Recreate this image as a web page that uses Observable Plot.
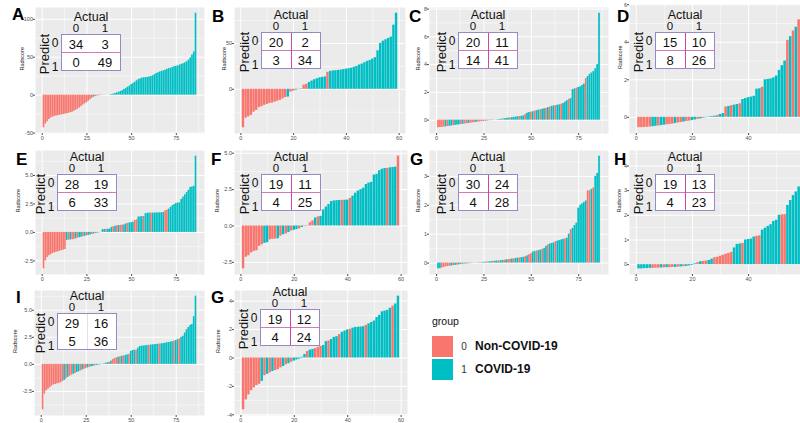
<!DOCTYPE html>
<html><head><meta charset="utf-8">
<script src="https://cdn.jsdelivr.net/npm/d3@7"></script>
<script src="https://cdn.jsdelivr.net/npm/@observablehq/plot@0.6"></script>
<style>
html,body{margin:0;padding:0;width:800px;height:423px;overflow:hidden;background:#fff;font-family:Arial,"Liberation Sans",sans-serif;}
#root{position:relative;width:800px;height:423px;overflow:hidden;}
.abs{position:absolute;white-space:nowrap;line-height:1;}
.letter{font-weight:bold;font-size:17px;color:#000;}
.cmbox{position:absolute;box-sizing:border-box;border:1px solid #958ac4;background:#fff;}
.t12{font-size:12px;color:#111;}
.num{font-size:13px;color:#111;}
</style></head><body><div id="root"></div>
<script>
// ---------------- data ----------------
const xTicks86 = [0, 25, 50, 75];
const xTicks59 = [0, 20, 40, 60];
const xTicks59cut = [0, 20, 40];

const valuesA = [-43,-38,-35,-32,-30,-29,-28,-27.5,-27,-26.5,
 -26,-25.5,-25,-24.5,-24,-23,-22.5,-21,-20,-18.5,
 -17,-15,-13,-11.5,-10,-8,-6,-4,-2.5,-1.8,
 -1.2,-0.8,-0.5,-0.3,-0.2,-0.1,-0.05,0.3,0.8,1.5,
 2.2,3,3.8,4.8,6,7.5,9,10.5,12,14,
 15.5,17,19,20.5,21.5,22.5,23,23.2,23.5,24,
 24.5,25.5,27,28.5,29.5,30.5,31.5,32,33,34,
 35,35.5,36.5,37.5,38,38.5,39.5,40.5,41.5,42.5,
 44,46,49,53,57,108];
const groupsA = [0,0,0,0,0,0,0,0,0,0, 0,0,0,0,0,0,0,0,0,0, 0,0,0,0,0,0,0,0,1,0,
 0,0,1,0,0,1,0,1,1,1, 1,1,1,1,1,1,1,1,1,1, 1,1,1,1,1,1,1,1,1,1, 1,1,1,1,1,1,1,1,1,1,
 1,1,1,1,1,1,1,1,1,1, 1,1,1,1,1,1];
const cmA = [[34,3],[0,49]];
const yTicksA = [-50, 0, 50, 100];

const valuesB = [-42,-31.5,-30,-28.5,-25,-23,-20,-19,-17.5,-16.5,
 -15.5,-15,-14,-13,-12,-10.5,-9,-8.5,-3,-2,
 -1,-0.5,0.5,4.5,5.5,7.5,9,10.5,11.5,12.5,
 13,13.5,18.5,19.5,20,20.3,20.6,21,21.5,22,
 22.5,23,24,25,26.5,27.5,29,30.5,31.5,33,
 34.5,42,50,52.5,54,55.5,57,70,83];
const groupsB = [0,0,0,0,0,0,0,0,0,0, 0,0,0,0,0,0,0,1,0,0, 1,0,1,0,0,1,1,1,1,1,
 1,1,0,1,1,1,1,1,1,1, 1,1,1,1,1,1,1,1,1,1, 1,1,1,1,1,1,1,1,1];
const cmB = [[20,2],[3,34]];
const yTicksB = [0, 50];

const valuesC = [-0.55,-0.53,-0.52,-0.5,-0.48,-0.46,-0.44,-0.42,-0.4,-0.38,
 -0.36,-0.34,-0.32,-0.3,-0.28,-0.26,-0.24,-0.22,-0.2,-0.18,
 -0.16,-0.14,-0.12,-0.1,-0.09,-0.07,-0.06,-0.04,-0.03,-0.02,
 -0.01,0.02,0.04,0.06,0.08,0.1,0.12,0.14,0.16,0.18,
 0.2,0.22,0.24,0.26,0.28,0.3,0.4,0.5,0.55,0.58,
 0.6,0.65,0.68,0.72,0.75,0.78,0.82,0.85,0.9,0.95,
 1.0,1.02,1.05,1.08,1.1,1.15,1.2,1.3,1.4,1.5,
 1.55,2.2,2.25,2.3,2.35,2.4,2.5,2.6,3.0,3.15,
 3.3,3.4,3.5,3.7,4.0,7.7];
const groupsC = [0,0,0,0,1,0,1,1,0,1, 1,1,0,1,0,0,1,0,0,0, 1,0,0,0,0,1,0,0,1,0,
 0,1,1,1,0,1,1,1,0,1, 1,1,1,0,1,1,0,1,1,0, 1,0,1,1,0,1,1,0,1,0,
 1,1,0,1,1,0,1,1,1,0, 1,1,1,0,1,1,1,1,0,1, 1,1,1,1,1,1];
const cmC = [[20,11],[14,41]];
const yTicksC = [0, 2, 4, 6, 8];

const valuesD = [-0.55,-0.55,-0.54,-0.53,-0.52,-0.5,-0.48,-0.46,-0.44,-0.42,
 -0.4,-0.38,-0.36,-0.33,-0.3,-0.28,-0.25,-0.22,-0.2,-0.17,
 -0.14,-0.11,-0.08,-0.05,-0.02,0.02,0.04,0.06,0.1,0.15,
 0.2,0.55,0.58,0.62,0.65,0.68,0.72,0.95,1.0,1.05,
 1.08,1.12,1.5,1.52,1.6,2.0,2.02,2.05,2.1,2.2,
 2.5,2.75,3.0,4.1,4.3,4.6,4.8,5.2,5.7];
const groupsD = [0,0,0,0,0,1,1,0,1,1, 0,0,0,1,0,0,1,0,0,1, 1,0,1,0,1,1,1,1,0,1,
 1,0,1,0,1,1,0,1,1,1, 1,1,1,1,0,1,1,1,1,1, 1,1,1,0,1,0,1,0,1];
const cmD = [[15,10],[8,26]];
const yTicksD = [0, 2, 4, 6];

const valuesE = [-3.2,-2.5,-2.2,-2.05,-1.95,-1.85,-1.8,-1.75,-1.7,-1.65,
 -1.6,-1.55,-1.5,-0.7,-0.68,-0.66,-0.64,-0.62,-0.55,-0.5,
 -0.46,-0.42,-0.38,-0.34,-0.3,-0.26,-0.22,-0.18,-0.14,-0.1,
 -0.07,-0.04,-0.02,0.25,0.26,0.27,0.28,0.3,0.45,0.5,
 0.55,0.58,0.6,0.62,0.64,0.66,0.75,0.8,0.84,0.86,
 0.9,1.05,1.1,1.35,1.37,1.39,1.4,1.65,1.68,1.7,
 1.7,1.7,1.71,1.71,1.72,1.72,1.73,1.75,1.9,1.95,
 2.05,2.2,2.35,2.45,2.55,2.58,2.6,2.9,3.1,3.3,
 3.5,3.7,3.95,4.0,4.05,6.7];
const groupsE = [0,0,0,0,0,0,0,0,0,0, 0,0,0,1,0,1,0,0,1,0, 1,1,0,1,0,1,1,0,1,0,
 1,0,1,1,1,0,1,1,1,0, 1,0,1,0,0,1,1,0,1,1, 1,0,0,1,1,1,0,1,1,1,
 0,1,1,1,1,1,1,1,0,0, 1,1,1,1,1,1,1,1,1,1, 1,1,1,1,1,1];
const cmE = [[28,19],[6,33]];
const yTicksE = [-2.5, 0, 2.5, 5];

const valuesF = [-2.95,-2.15,-2.05,-1.85,-1.75,-1.7,-1.4,-1.3,-1.2,-1.15,
 -0.95,-0.92,-0.9,-0.88,-0.7,-0.6,-0.55,-0.45,-0.35,-0.3,
 -0.25,-0.2,-0.1,-0.05,0.03,0.22,0.35,0.55,0.62,0.66,
 1.1,1.3,1.48,1.68,1.72,1.74,1.75,1.76,1.77,1.78,
 1.9,2.05,2.25,2.4,2.5,2.6,2.85,2.95,3.0,3.5,
 3.55,3.8,3.9,3.95,3.96,4.0,4.02,4.05,4.8];
const groupsF = [0,0,0,0,0,0,0,0,1,1, 0,0,0,1,0,1,0,1,0,1, 1,0,1,0,1,0,0,1,0,1,
 1,1,1,1,1,1,1,0,1,1, 0,1,1,1,1,1,1,1,1,1, 1,1,1,1,0,1,1,1,0];
const cmF = [[19,11],[4,25]];
const yTicksF = [-2.5, 0, 2.5, 5];

const valuesG = [-0.2,-0.19,-0.17,-0.15,-0.13,-0.12,-0.11,-0.1,-0.09,-0.08,
 -0.07,-0.06,-0.05,-0.04,-0.035,-0.03,-0.025,-0.02,-0.01,-0.005,
 0.005,0.01,0.015,0.02,0.025,0.03,0.035,0.04,0.05,0.06,
 0.065,0.07,0.075,0.08,0.09,0.1,0.11,0.12,0.13,0.14,
 0.15,0.16,0.17,0.18,0.19,0.2,0.22,0.25,0.29,0.32,
 0.38,0.4,0.42,0.43,0.45,0.48,0.5,0.58,0.63,0.66,
 0.68,0.7,0.74,0.76,0.78,0.8,0.82,0.84,0.86,1.0,
 1.15,1.2,1.3,1.38,1.9,2.0,2.05,2.1,2.15,2.5,
 2.5,2.55,2.6,3.0,3.1,3.7];
const groupsG = [1,1,0,0,0,0,0,1,0,1, 0,1,0,1,0,1,0,0,1,0, 1,0,1,0,1,1,0,1,1,0,
 1,1,0,1,1,0,1,0,0,1, 0,1,1,0,1,1,0,1,0,0, 1,1,0,1,1,0,1,1,0,1,
 1,1,0,1,1,1,1,0,1,1, 0,1,1,1,1,1,1,1,1,0, 0,1,0,1,1,1];
const cmG = [[30,24],[4,28]];
const yTicksG = [0, 1, 2, 3];

const valuesH = [-0.17,-0.17,-0.16,-0.16,-0.15,-0.15,-0.14,-0.14,-0.13,-0.13,
 -0.12,-0.12,-0.11,-0.11,-0.1,-0.09,-0.08,-0.07,-0.05,-0.03,
 0.03,0.08,0.12,0.13,0.15,0.17,0.22,0.28,0.3,0.34,
 0.38,0.42,0.46,0.5,0.68,0.82,0.84,0.86,1.0,1.02,
 1.04,1.12,1.15,1.17,1.4,1.48,1.55,1.62,1.75,1.8,
 2.0,2.02,2.03,2.4,2.6,2.8,2.95,3.15,4.4];
const groupsH = [1,1,1,1,1,0,0,0,1,0, 1,0,0,1,0,1,0,1,1,1, 1,0,1,0,0,1,1,0,0,0,
 0,0,0,0,1,1,1,0,1,1, 1,1,0,0,1,1,1,1,1,1, 1,0,0,1,1,1,1,1,1];
const cmH = [[19,13],[4,23]];
const yTicksH = [0, 1, 2, 3, 4];

const valuesI = [-4.2,-2.75,-2.45,-2.3,-2.15,-2.0,-1.9,-1.85,-1.8,-1.75,
 -1.7,-1.6,-1.5,-1.35,-1.2,-1.1,-1.0,-0.92,-0.85,-0.75,
 -0.68,-0.6,-0.52,-0.45,-0.4,-0.32,-0.28,-0.22,-0.18,-0.14,
 -0.1,-0.07,-0.05,-0.02,0.05,0.1,0.15,0.2,0.3,0.45,
 0.55,0.6,0.65,0.7,0.75,0.78,0.82,0.88,0.92,1.2,
 1.28,1.3,1.32,1.5,1.65,1.68,1.7,1.72,1.74,1.76,
 1.78,1.8,1.82,1.84,1.86,1.88,1.9,1.92,1.95,2.0,
 2.02,2.05,2.1,2.15,2.2,2.28,2.35,2.5,2.6,2.9,
 3.2,3.4,3.6,3.7,4.4,6.3];
const groupsI = [0,0,0,0,0,0,0,0,0,0, 0,0,1,0,1,0,0,1,0,1, 1,0,1,0,0,1,0,1,1,0,
 1,1,0,1,1,1,1,0,1,0, 0,0,1,0,1,0,1,1,0,1, 1,1,0,1,1,1,1,1,1,0,
 1,1,1,1,1,0,1,1,1,1, 1,1,1,0,1,1,0,1,1,1, 1,1,1,1,1,1];
const cmI = [[29,16],[5,36]];
const yTicksI = [-2.5, 0, 2.5, 5];

const valuesG2 = [-3.65,-2.95,-2.6,-2.3,-2.1,-1.95,-1.85,-1.65,-1.25,-1.15,
 -1.05,-0.95,-0.88,-0.82,-0.7,-0.6,-0.48,-0.4,-0.3,-0.22,
 -0.14,-0.08,0.05,0.25,0.45,0.55,0.6,0.66,0.75,0.82,
 0.88,1.15,1.2,1.3,1.45,1.5,1.65,1.8,1.9,1.98,
 2.02,2.1,2.15,2.16,2.18,2.2,2.3,2.4,2.5,2.6,
 2.85,3.0,3.25,3.3,3.35,3.5,3.65,3.8,4.35];
const groupsG2 = [0,0,0,0,0,0,0,1,0,1, 0,1,0,0,0,1,0,1,0,1, 1,1,1,1,0,1,1,0,0,0,
 1,1,0,1,1,1,0,1,1,1, 0,1,1,1,1,1,0,1,1,1, 1,1,1,1,1,1,0,1,1];
const cmG2 = [[19,12],[4,24]];
const yTicksG2 = [-4, -2, 0, 2, 4];

const groupNames = ["Non-COVID-19", "COVID-19"];
const groupColors = ["#F8766D", "#00BFC4"];

// ---------------- layout ----------------
const panels = [
 {tag:"A", v:valuesA, g:groupsA, cm:cmA, yt:yTicksA, xt:xTicks86, fmt:d=>String(d), fx:35, fy:7, fw:169, fh:126, bx:61, by:34, lx:12, ly:6, yl:-13, vline:false, hline:true},
 {tag:"B", v:valuesB, g:groupsB, cm:cmB, yt:yTicksB, xt:xTicks59, fmt:d=>String(d), fx:234, fy:7, fw:171, fh:126, bx:261, by:32, lx:212, ly:8, yl:-10, vline:true, hline:true},
 {tag:"C", v:valuesC, g:groupsC, cm:cmC, yt:yTicksC, xt:xTicks86, fmt:d=>String(d), fx:429, fy:7, fw:179, fh:126, bx:458, by:32, lx:409, ly:8, yl:-11, vline:true, hline:true},
 {tag:"D", v:valuesD, g:groupsD, cm:cmD, yt:yTicksD, xt:xTicks59cut, fmt:d=>String(d), fx:629, fy:4, fw:182, fh:129, bx:655, by:32, lx:617, ly:8, yl:-9, vline:true, hline:true},
 {tag:"E", v:valuesE, g:groupsE, cm:cmE, yt:yTicksE, xt:xTicks86, fmt:d=>d.toFixed(1), fx:35, fy:150, fw:169, fh:124, bx:57, by:174, lx:16, ly:151, yl:-17, vline:false, hline:true},
 {tag:"F", v:valuesF, g:groupsF, cm:cmF, yt:yTicksF, xt:xTicks59, fmt:d=>d.toFixed(1), fx:234, fy:150, fw:173, fh:124, bx:261, by:174, lx:211, ly:151, yl:-17, vline:true, hline:true},
 {tag:"G", v:valuesG, g:groupsG, cm:cmG, yt:yTicksG, xt:xTicks86, fmt:d=>String(d), fx:429, fy:150, fw:179, fh:124, bx:458, by:174, lx:410, ly:151, yl:-11, vline:true, hline:true},
 {tag:"H", v:valuesH, g:groupsH, cm:cmH, yt:yTicksH, xt:xTicks59cut, fmt:d=>String(d), fx:629, fy:150, fw:182, fh:124, bx:655, by:174, lx:614, ly:151, yl:-10, vline:true, hline:true},
 {tag:"I", v:valuesI, g:groupsI, cm:cmI, yt:yTicksI, xt:xTicks86, fmt:d=>d.toFixed(1), fx:34, fy:290, fw:170, fh:125, bx:57, by:313, lx:16, ly:289, yl:-19, vline:true, hline:false, faint:true},
 {tag:"G", v:valuesG2, g:groupsG2, cm:cmG2, yt:yTicksG2, xt:xTicks59, fmt:d=>String(d), fx:234, fy:290, fw:173, fh:125, bx:260, by:309, lx:211, ly:289, yl:-16, vline:true, hline:true}
];

const root = document.getElementById("root");
function addText(txt, x, y, cls, extra) {
  const d = document.createElement("div");
  d.className = "abs " + (cls || "");
  d.textContent = txt;
  d.style.left = x + "px"; d.style.top = y + "px";
  if (extra) Object.assign(d.style, extra);
  root.appendChild(d);
  return d;
}
function centered(txt, cx, cy, cls, extra) {
  return addText(txt, cx, cy, cls, Object.assign({transform: "translate(-50%,-50%)"}, extra || {}));
}
function minors(ticks, lo, hi) {
  const s = ticks[1] - ticks[0];
  const out = [ticks[0] - s / 2, ...ticks.map(t => t + s / 2)];
  return out.filter(t => t > lo && t < hi);
}

for (const p of panels) {
  const n = p.v.length;
  const data = p.v.map((v, k) => ({i: k + 1, v, g: p.g[k]}));
  const x0 = 0.55, x1 = n + 0.45, xe = (x1 - x0) * 0.05;
  const ymin = Math.min(0, d3.min(p.v)), ymax = Math.max(0, d3.max(p.v)), ye = (ymax - ymin) * 0.05;
  const xd = [x0 - xe, x1 + xe], yd = [ymin - ye, ymax + ye];
  const ml = 26, mr = 2, mt = 2, mb = 12;
  const xt = p.xt.filter(t => t > xd[0] && t < xd[1]);
  const yt = p.yt.filter(t => t > yd[0] && t < yd[1]);
  const chart = Plot.plot({
    width: p.fw + ml + mr, height: p.fh + mt + mb,
    marginLeft: ml, marginRight: mr, marginTop: mt, marginBottom: mb,
    x: {domain: xd},
    y: {domain: yd},
    color: {type: "ordinal", domain: [0, 1], range: groupColors},
    style: {fontFamily: "Arial, 'Liberation Sans', sans-serif", fontSize: "5.5px", background: "transparent", overflow: "visible"},
    marks: [
      Plot.frame({fill: "#EBEBEB", stroke: "none"}),
      Plot.gridX(minors(p.xt, xd[0], xd[1]), {stroke: "#fff", strokeOpacity: 1, strokeWidth: 0.5}),
      Plot.gridY(minors(p.yt, yd[0], yd[1]), {stroke: "#fff", strokeOpacity: 1, strokeWidth: 0.5}),
      Plot.gridX(xt, {stroke: "#fff", strokeOpacity: 1, strokeWidth: 1}),
      Plot.gridY(yt, {stroke: "#fff", strokeOpacity: 1, strokeWidth: 1}),
      Plot.rect(data, {x1: d => d.i - 0.45, x2: d => d.i + 0.45, y1: 0, y2: "v", fill: "g"}),
      Plot.axisX(xt, {tickSize: 2, tickPadding: 0.5, color: "#4d4d4d", fontSize: 5.5, label: null}),
      Plot.axisY(yt, {tickSize: 2, tickPadding: 0.5, color: "#4d4d4d", fontSize: 5.5, tickFormat: p.fmt, label: null}),
      Plot.text(["Radscore"], {frameAnchor: "left", dx: p.yl, rotate: -90, fontSize: 5.5, fill: "#222"})
    ]
  });
  chart.style.position = "absolute";
  chart.style.left = (p.fx - ml) + "px";
  chart.style.top = (p.fy - mt) + "px";
  root.appendChild(chart);

  // panel letter
  addText(p.tag, p.lx, p.ly, "letter");

  // confusion matrix inset
  const bw = 60, bh = 37;
  const box = document.createElement("div");
  box.className = "cmbox";
  Object.assign(box.style, {left: p.bx + "px", top: p.by + "px", width: bw + "px", height: bh + "px"});
  if (p.hline) {
    const h = document.createElement("div");
    Object.assign(h.style, {position: "absolute", left: "0px", right: "0px", top: "17px", height: "1px", background: "#d27ab8"});
    box.appendChild(h);
  }
  if (p.vline) {
    const v = document.createElement("div");
    Object.assign(v.style, {position: "absolute", top: "0px", bottom: "0px", left: "29px", width: "1px", background: p.faint ? "#e4e0ea" : "#c948a6"});
    box.appendChild(v);
  }
  root.appendChild(box);
  const c0 = p.bx + 15, c1 = p.bx + 44;
  centered("Actual", p.bx + 30, p.by - 17.5, "t12", {fontSize: "12.5px"});
  centered("0", c0, p.by - 5, "t12", {fontSize: "11.5px"});
  centered("1", c1, p.by - 5, "t12", {fontSize: "11.5px"});
  centered("Predict", p.bx - 17, p.by + 20, "t12", {transform: "translate(-50%,-50%) rotate(-90deg)", fontSize: "13px"});
  centered("0", p.bx - 6, p.by + 9, "t12");
  centered("1", p.bx - 6, p.by + 33, "t12");
  centered(String(p.cm[0][0]), c0, p.by + 9.5, "num");
  centered(String(p.cm[0][1]), c1, p.by + 9.5, "num");
  centered(String(p.cm[1][0]), c0, p.by + 27.5, "num");
  centered(String(p.cm[1][1]), c1, p.by + 27.5, "num");
}

// legend
addText("group", 432, 316, "", {fontSize: "10.5px", color: "#111"});
groupNames.forEach((name, k) => {
  const y = 336 + k * 23;
  const sq = document.createElement("div");
  Object.assign(sq.style, {position: "absolute", left: "432px", top: y + "px", width: "21px", height: "21px", background: groupColors[k]});
  root.appendChild(sq);
  centered(String(k), 464, y + 11, "", {fontSize: "10px", color: "#333"});
  addText(name, 475, y + 4, "", {fontSize: "12px", fontWeight: "bold", color: "#111"});
});
</script>
</body></html>
